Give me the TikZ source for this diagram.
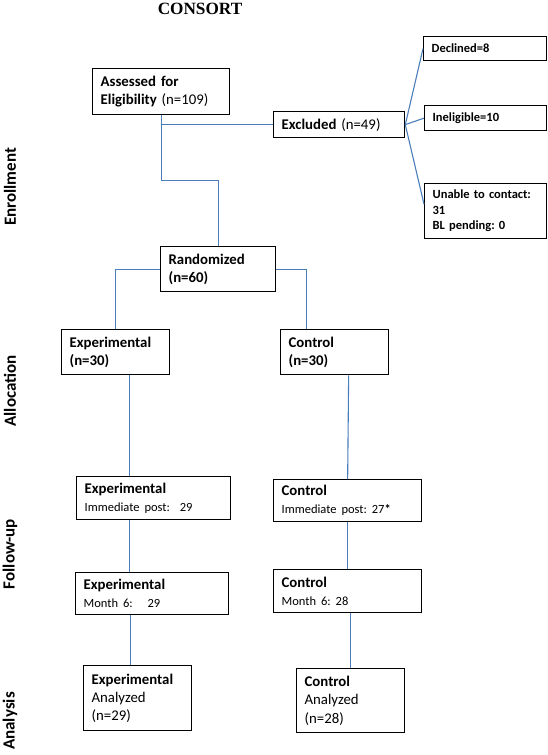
\documentclass[tikz,border=0pt]{standalone}
\usepackage{fontspec}
\setmainfont{Carlito}
\newfontfamily\consortfont{Liberation Serif}
\newcommand{\bigtxt}{\fontsize{14.8}{18.3}\selectfont}
\newcommand{\smalltxt}{\fontsize{12.5}{15.5}\selectfont}
\definecolor{linkblue}{RGB}{74,126,187}
\frenchspacing

\begin{document}
\begin{tikzpicture}[x=1pt,y=-1pt,
  box/.style={draw,line width=1.3pt,anchor=north west,inner xsep=8pt,inner ysep=0pt,align=left,font=\bigtxt},
  link/.style={draw=linkblue,line width=1.1pt},
  phase/.style={rotate=90,font=\fontsize{17}{20}\selectfont\bfseries}]
  \useasboundingbox (0,0) rectangle (548,755);
  \node[font=\consortfont\fontsize{17.2}{20}\selectfont\bfseries] (title) at (200,9) {CONSORT};
  % phases
  \node[phase] (enrol) at (10,187) {Enrollment};
  \node[phase] (alloc) at (10,391) {Allocation};
  \node[phase] (follow) at (10,554) {Follow-up};
  \node[phase] (anal) at (10,721) {Analysis};
  % enrollment
  \node[box,minimum width=137pt,minimum height=46pt,text width=121pt] (assess) at (92,68) {\textbf{Assessed for}\\\textbf{Eligibility} (n=109)};
  \node[box,minimum width=131pt,minimum height=26pt,text width=115pt] (excl) at (273,111) {\textbf{Excluded} (n=49)};
  \node[box,font=\smalltxt\bfseries,minimum width=123pt,minimum height=24pt,text width=107pt] (decl) at (423,36) {Declined=8};
  \node[box,font=\smalltxt\bfseries,minimum width=122pt,minimum height=25pt,text width=106pt] (inel) at (424,105) {Ineligible=10};
  \node[box,font=\smalltxt\bfseries,minimum width=122pt,minimum height=55pt,text width=106pt] (unable) at (424,183) {Unable to contact:\\31\\BL pending: 0};
  \node[box,font=\bigtxt\bfseries,minimum width=115pt,minimum height=45pt,text width=99pt] (rand) at (160,246) {Randomized\\(n=60)};
  % allocation
  \node[box,font=\bigtxt\bfseries,minimum width=108pt,minimum height=45pt,text width=92pt] (expA) at (61,329) {Experimental\\(n=30)};
  \node[box,font=\bigtxt\bfseries,minimum width=108pt,minimum height=45pt,text width=92pt] (ctlA) at (280,329) {Control\\(n=30)};
  % follow-up
  \node[box,minimum width=154pt,minimum height=43pt,text width=138pt] (expF) at (76,476) {\textbf{Experimental}\\{\smalltxt Immediate post:\ \ 29}};
  \node[box,minimum width=148pt,minimum height=42pt,text width=132pt] (ctlF) at (273,479) {\textbf{Control}\\{\smalltxt Immediate post: 27\textbf{*}}};
  \node[box,minimum width=153pt,minimum height=42pt,text width=137pt] (expM) at (75,572) {\textbf{Experimental}\\{\smalltxt Month 6:\ \ \ 29}};
  \node[box,minimum width=148pt,minimum height=43pt,text width=132pt] (ctlM) at (273,569) {\textbf{Control}\\{\smalltxt Month 6: 28}};
  % analysis
  \node[box,minimum width=108pt,minimum height=65pt,text width=92pt] (expAn) at (83,665) {\textbf{Experimental}\\Analyzed\\(n=29)};
  \node[box,minimum width=108pt,minimum height=64pt,text width=92pt] (ctlAn) at (296,668) {\textbf{Control}\\Analyzed\\(n=28)};
  % connectors
  \draw[link] (assess.south) -- ++(0,65) -| (rand.north);
  \draw[link] (assess.south |- excl.west) -- (excl.west);
  \draw[link] (excl.east) -- (decl.west);
  \draw[link] (excl.east) -- (inel.west);
  \draw[link] (excl.east) -- ([yshift=7pt]unable.west);
  \draw[link] (rand.west) -| (expA.north);
  \draw[link] (rand.east) -| ([xshift=-28pt]ctlA.north);
  \draw[link] ([xshift=14pt]expA.south) -- ([xshift=14pt]expA.south |- expF.north);
  \draw[link] ([xshift=14pt]ctlA.south) -- (ctlF.north);
  \draw[link] ([xshift=-24pt]expF.south) -- ([xshift=-24pt]expF.south |- expM.north);
  \draw[link] (ctlF.south) -- (ctlM.north);
  \draw[link] ([xshift=-22pt]expM.south) -- ([xshift=-22pt]expM.south |- expAn.north);
  \draw[link] ([xshift=3pt]ctlM.south) -- (ctlAn.north);
\end{tikzpicture}
\end{document}
